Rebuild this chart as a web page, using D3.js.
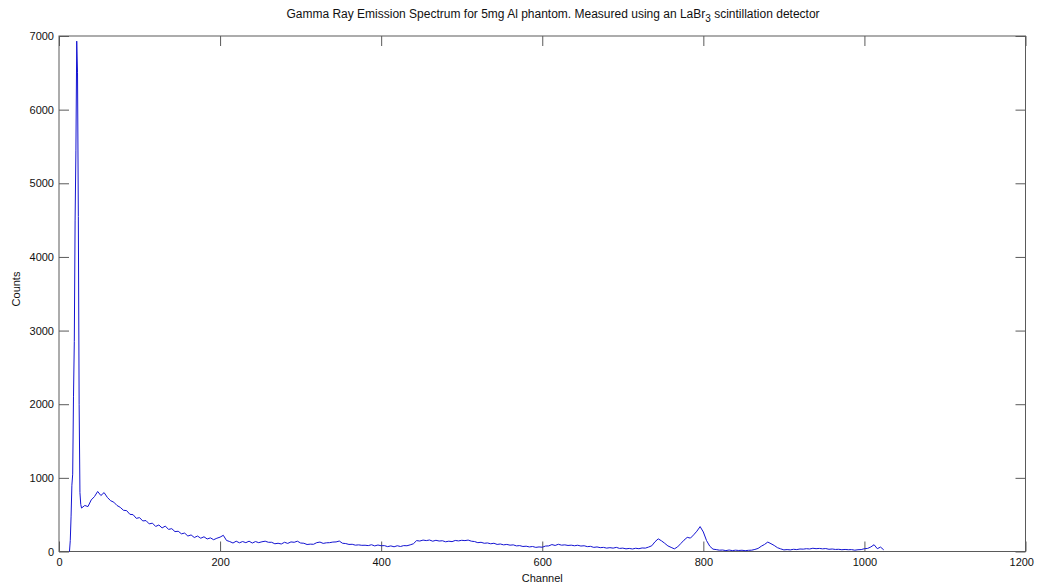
<!DOCTYPE html>
<html>
<head>
<meta charset="utf-8">
<script src="https://cdn.jsdelivr.net/npm/d3@7"></script>
<style>
  html, body { margin: 0; padding: 0; background: #fff; }
  svg { display: block; }
  text { font-family: "Liberation Sans", Arial, sans-serif; fill: #111; }
</style>
</head>
<body>
<svg id="chart" width="1037" height="585"></svg>
<script>
// Gamma spectrum, counts per channel.
// Low-energy peak, one value per channel (13..27).
const peakStart = 13;
const peakCounts = [0, 150, 480, 900, 1050, 2100, 2850, 4500, 5450, 6930, 6500, 4550, 2000, 800, 640];

// Remainder of the spectrum, sampled every 4 channels from channel 28 to 1024.
const contStart = 28;
const contStep = 4;
const contCounts = [
  590, 625, 610, 700, 745, 815, 760, 800,
  735, 690, 670, 625, 600, 560, 555, 505, 500, 450, 460,
  415, 420, 375, 385, 340, 360, 320, 345, 300, 310,
  270, 275, 240, 250, 210, 225, 190, 210, 180, 200, 170, 185, 160, 180, 195,
  220, 150, 135, 115, 140, 118, 135, 120, 140, 115, 135, 120, 132, 140, 125,
  125, 105, 112, 102, 125, 110, 130, 125, 140, 115, 112, 95, 100, 98, 120,
  128, 110, 118, 120, 128, 130, 142, 112, 108, 96, 98, 86, 90, 84, 85,
  80, 92, 76, 88, 78, 80, 66, 76, 64, 78, 68, 80, 78, 90, 105,
  148, 142, 155, 148, 156, 140, 152, 142, 146, 132, 140, 134, 150, 144, 152,
  148, 155, 140, 135, 120, 125, 112, 116, 105, 112, 96, 102, 90, 96, 86,
  90, 76, 80, 68, 72, 62, 68, 56, 62, 58, 74, 76, 94, 82, 98,
  86, 90, 82, 86, 78, 85, 74, 78, 66, 70, 56, 62, 52, 56, 46,
  52, 46, 56, 42, 46, 36, 42, 34, 44, 38, 48, 46, 60, 78, 132,
  172, 145, 112, 76, 56, 36, 62, 108, 154, 192, 182, 226, 276, 338, 265,
  148, 72, 32, 26, 18, 20, 12, 20, 12, 18, 14, 17, 11, 16, 18,
  28, 42, 72, 96, 128, 106, 82, 52, 36, 22, 26, 22, 30, 26, 34,
  32, 38, 34, 44, 38, 42, 36, 40, 30, 34, 28, 30, 24, 28, 24,
  26, 18, 24, 26, 38, 42, 62, 92, 38, 60, 22
];

const xTicks = [0, 200, 400, 600, 800, 1000, 1200];
const yTicks = [0, 1000, 2000, 3000, 4000, 5000, 6000, 7000];

const titleMain = "Gamma Ray Emission Spectrum for 5mg Al phantom. Measured using an LaBr";
const titleSub = "3";
const titleTail = " scintillation detector";
const xLabel = "Channel";
const yLabel = "Counts";

// Combine the two sampled parts into one series of [channel, count].
const series = peakCounts.map((c, i) => [peakStart + i, c])
  .concat(contCounts.map((c, i) => [contStart + i * contStep, c]));

const svg = d3.select("#chart");
const box = { left: 59, right: 1025.5, top: 36, bottom: 551.5 };

const x = d3.scaleLinear().domain([0, 1200]).range([box.left, box.right]);
const y = d3.scaleLinear().domain([0, 7000]).range([box.bottom, box.top]);

const axisColor = "#5a5a5a";
const tickLen = 10;
const fmt = d3.format("d");

// Bottom axis with inward ticks
const gx = svg.append("g").attr("transform", `translate(0,${box.bottom})`)
  .call(d3.axisBottom(x).tickValues(xTicks).tickFormat(fmt)
    .tickSizeInner(-tickLen).tickSizeOuter(0).tickPadding(7));
// Top mirrored ticks
const gxt = svg.append("g").attr("transform", `translate(0,${box.top})`)
  .call(d3.axisTop(x).tickValues(xTicks).tickSizeInner(-tickLen).tickSizeOuter(0).tickFormat(""));
// Left axis
const gy = svg.append("g").attr("transform", `translate(${box.left},0)`)
  .call(d3.axisLeft(y).tickValues(yTicks).tickFormat(fmt)
    .tickSizeInner(-tickLen).tickSizeOuter(0).tickPadding(5));
// Right mirrored ticks
const gyr = svg.append("g").attr("transform", `translate(${box.right},0)`)
  .call(d3.axisRight(y).tickValues(yTicks).tickSizeInner(-tickLen).tickSizeOuter(0).tickFormat(""));

[gx, gxt, gy, gyr].forEach(g => {
  g.select(".domain").remove();
  g.selectAll(".tick line").attr("stroke", axisColor);
  g.selectAll(".tick text").attr("font-size", 11).attr("fill", "#111")
    .style("font-family", '"Liberation Sans", Arial, sans-serif');
});

// Keep the last channel label inside the page edge
gx.selectAll(".tick text")
  .filter(d => d === 1200)
  .attr("text-anchor", "end")
  .attr("x", 8);

// Axes box
svg.append("rect")
  .attr("x", box.left).attr("y", box.top)
  .attr("width", box.right - box.left).attr("height", box.bottom - box.top)
  .attr("fill", "none").attr("stroke", axisColor).attr("stroke-width", 1);

// Spectrum line
const line = d3.line().x(d => x(d[0])).y(d => y(d[1]));
svg.append("path")
  .datum(series)
  .attr("d", line)
  .attr("fill", "none")
  .attr("stroke", "#1414d2")
  .attr("stroke-width", 1);

// Title with subscript
const t = svg.append("text")
  .attr("x", 553).attr("y", 18)
  .attr("text-anchor", "middle")
  .attr("font-size", 12);
t.append("tspan").text(titleMain);
t.append("tspan").attr("font-size", 10).attr("dy", 4).text(titleSub);
t.append("tspan").attr("dy", -4).text(titleTail);

// Axis labels
svg.append("text")
  .attr("x", (box.left + box.right) / 2).attr("y", 582)
  .attr("text-anchor", "middle").attr("font-size", 11)
  .text(xLabel);

svg.append("text")
  .attr("transform", `translate(20,289) rotate(-90)`)
  .attr("text-anchor", "middle").attr("font-size", 11)
  .text(yLabel);
</script>
</body>
</html>
